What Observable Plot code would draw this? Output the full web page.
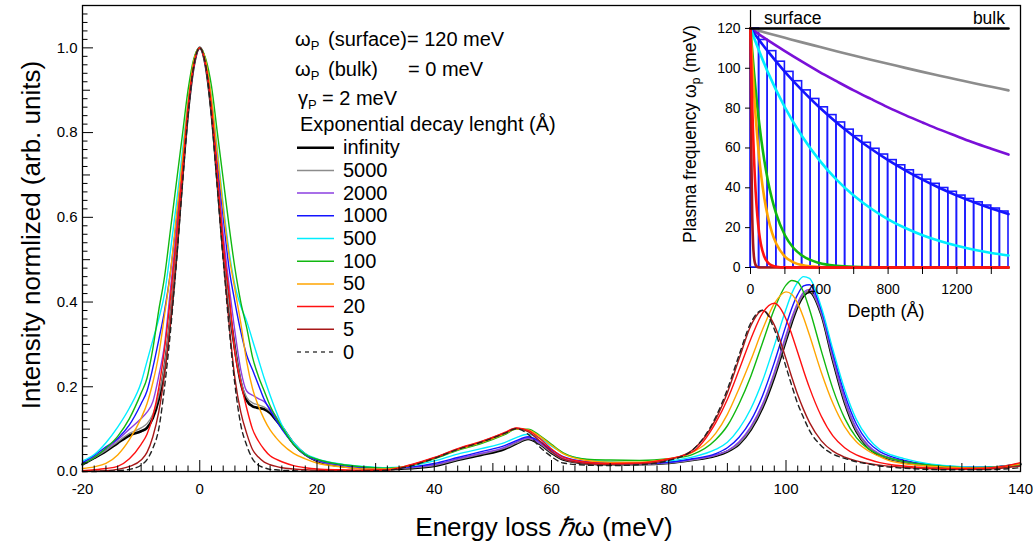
<!DOCTYPE html>
<html>
<head>
<meta charset="utf-8">
<script src="https://cdn.jsdelivr.net/npm/d3@7"></script>
<script src="https://cdn.jsdelivr.net/npm/@observablehq/plot@0.6"></script>
<style>
html,body{margin:0;padding:0;background:#fff;}
#wrap{position:relative;width:1033px;height:547px;overflow:hidden;}
</style>
</head>
<body>
<div id="wrap"></div>
<script>
// ---------------- main spectrum data (energy loss in meV, intensity normalized) ----------------
const energy = [-20,-18,-16,-14,-12,-10,-9,-8,-7,-6,-5,-4,-3,-2,-1,0,
  1,2,3,4,5,6,7,8,9,10,11,12,13,14,
  16,18,20,24,28,32,36,40,44,48,52,
  54,56,58,60,62,66,70,75,80,84,88,
  90,92,94,96,98,100,101,102,103,104,106,108,110,112,114,116,118,120,
  124,128,132,136,140];

const I_infinity = [0.017,0.032,0.048,0.067,0.085,0.095,0.103,0.126,0.170,0.245,0.360,0.510,0.690,0.850,0.960,1.000,
  0.960,0.850,0.690,0.520,0.390,0.290,0.210,0.168,0.154,0.150,0.147,0.138,0.122,0.105,
  0.066,0.040,0.025,0.013,0.008,0.006,0.008,0.013,0.027,0.039,0.053,
  0.066,0.077,0.065,0.044,0.028,0.019,0.017,0.017,0.020,0.027,0.037,
  0.047,0.065,0.099,0.151,0.223,0.310,0.353,0.390,0.415,0.424,0.372,0.263,0.164,0.095,0.057,0.038,0.029,0.023,
  0.015,0.010,0.008,0.010,0.017];
const I_5000 = [0.018,0.033,0.050,0.070,0.090,0.103,0.113,0.135,0.180,0.250,0.370,0.520,0.690,0.850,0.960,1.000,
  0.960,0.850,0.690,0.520,0.390,0.290,0.215,0.175,0.162,0.157,0.152,0.142,0.126,0.108,
  0.068,0.041,0.026,0.014,0.008,0.007,0.009,0.014,0.028,0.041,0.055,
  0.067,0.078,0.066,0.045,0.029,0.019,0.017,0.017,0.020,0.027,0.038,
  0.048,0.066,0.101,0.154,0.227,0.314,0.357,0.393,0.418,0.426,0.373,0.265,0.166,0.097,0.058,0.039,0.029,0.023,
  0.015,0.010,0.008,0.010,0.017];
const I_2000 = [0.019,0.035,0.053,0.075,0.100,0.125,0.140,0.165,0.225,0.300,0.430,0.560,0.710,0.850,0.960,1.000,
  0.960,0.860,0.710,0.560,0.440,0.330,0.240,0.190,0.180,0.172,0.165,0.148,0.130,0.105,
  0.066,0.039,0.026,0.015,0.009,0.007,0.010,0.016,0.030,0.043,0.057,
  0.070,0.079,0.067,0.047,0.031,0.020,0.018,0.018,0.021,0.028,0.039,
  0.049,0.070,0.106,0.159,0.234,0.322,0.364,0.399,0.423,0.430,0.377,0.270,0.172,0.102,0.062,0.041,0.031,0.025,
  0.016,0.011,0.008,0.010,0.017];
const I_1000 = [0.021,0.038,0.058,0.078,0.110,0.160,0.190,0.245,0.310,0.380,0.470,0.590,0.720,0.860,0.960,1.000,
  0.970,0.870,0.730,0.600,0.480,0.400,0.330,0.275,0.240,0.205,0.170,0.145,0.122,0.100,
  0.065,0.039,0.027,0.016,0.010,0.008,0.011,0.019,0.033,0.047,0.061,
  0.073,0.082,0.071,0.051,0.035,0.023,0.020,0.019,0.022,0.030,0.042,
  0.056,0.081,0.120,0.179,0.257,0.345,0.386,0.418,0.438,0.441,0.383,0.280,0.183,0.112,0.070,0.047,0.035,0.027,
  0.017,0.012,0.010,0.011,0.018];
const I_500 = [0.025,0.040,0.068,0.105,0.150,0.210,0.260,0.310,0.360,0.420,0.520,0.630,0.750,0.870,0.970,1.000,
  0.970,0.880,0.760,0.630,0.520,0.440,0.390,0.355,0.310,0.265,0.220,0.180,0.143,0.110,
  0.068,0.042,0.030,0.018,0.012,0.009,0.013,0.025,0.041,0.054,0.068,
  0.080,0.088,0.079,0.060,0.043,0.028,0.023,0.021,0.025,0.034,0.052,
  0.069,0.101,0.148,0.214,0.297,0.383,0.421,0.447,0.460,0.456,0.389,0.288,0.194,0.123,0.079,0.052,0.039,0.031,
  0.019,0.013,0.010,0.011,0.018];
const I_100 = [0.017,0.033,0.055,0.083,0.125,0.185,0.220,0.290,0.380,0.460,0.570,0.680,0.790,0.900,0.975,1.000,
  0.975,0.910,0.800,0.690,0.580,0.480,0.400,0.340,0.270,0.225,0.190,0.155,0.128,0.105,
  0.064,0.040,0.029,0.017,0.011,0.008,0.014,0.030,0.050,0.066,0.087,
  0.100,0.100,0.085,0.064,0.044,0.029,0.027,0.026,0.030,0.040,0.075,
  0.108,0.160,0.225,0.304,0.383,0.440,0.451,0.447,0.423,0.383,0.286,0.195,0.126,0.080,0.054,0.039,0.030,0.024,
  0.016,0.011,0.009,0.010,0.017];
const I_50 = [0.007,0.011,0.019,0.039,0.075,0.126,0.160,0.210,0.275,0.370,0.470,0.600,0.730,0.870,0.970,1.000,
  0.970,0.880,0.750,0.620,0.510,0.430,0.350,0.260,0.196,0.155,0.123,0.098,0.080,0.065,
  0.043,0.030,0.020,0.011,0.006,0.006,0.015,0.032,0.052,0.068,0.089,
  0.101,0.098,0.083,0.062,0.042,0.026,0.022,0.022,0.030,0.045,0.090,
  0.135,0.196,0.263,0.335,0.396,0.424,0.418,0.397,0.363,0.322,0.235,0.161,0.106,0.070,0.049,0.035,0.024,0.019,
  0.013,0.010,0.008,0.010,0.018];
const I_20 = [0.002,0.004,0.007,0.012,0.030,0.064,0.088,0.130,0.196,0.290,0.410,0.550,0.700,0.860,0.960,1.000,
  0.960,0.860,0.700,0.540,0.420,0.280,0.210,0.150,0.100,0.072,0.052,0.037,0.029,0.023,
  0.014,0.009,0.006,0.004,0.003,0.004,0.016,0.033,0.054,0.071,0.092,
  0.103,0.097,0.078,0.053,0.034,0.022,0.019,0.020,0.030,0.046,0.115,
  0.170,0.240,0.313,0.374,0.397,0.360,0.323,0.281,0.238,0.198,0.131,0.084,0.056,0.039,0.029,0.021,0.016,0.013,
  0.009,0.007,0.007,0.010,0.021];
const I_5 = [0.000,0.001,0.002,0.005,0.012,0.027,0.045,0.082,0.140,0.230,0.350,0.500,0.680,0.850,0.960,1.000,
  0.960,0.850,0.680,0.510,0.350,0.220,0.140,0.090,0.052,0.034,0.022,0.016,0.012,0.009,
  0.006,0.004,0.003,0.002,0.002,0.003,0.015,0.032,0.053,0.070,0.091,
  0.102,0.094,0.072,0.047,0.029,0.019,0.017,0.018,0.028,0.050,0.123,
  0.186,0.266,0.344,0.380,0.346,0.266,0.222,0.181,0.146,0.116,0.073,0.048,0.034,0.025,0.019,0.015,0.012,0.010,
  0.007,0.005,0.005,0.007,0.013];
const I_0 = [0.000,0.000,0.001,0.002,0.005,0.015,0.028,0.055,0.100,0.200,0.330,0.490,0.670,0.840,0.960,1.000,
  0.960,0.840,0.670,0.500,0.340,0.205,0.110,0.062,0.030,0.015,0.009,0.005,0.004,0.003,
  0.002,0.001,0.001,0.001,0.001,0.003,0.013,0.031,0.052,0.069,0.090,
  0.101,0.088,0.058,0.035,0.020,0.015,0.014,0.016,0.026,0.050,0.128,
  0.194,0.275,0.351,0.381,0.336,0.247,0.202,0.160,0.127,0.097,0.061,0.041,0.031,0.023,0.018,0.013,0.010,0.008,
  0.005,0.004,0.004,0.005,0.009];

// ---------------- inset data (depth in Å, plasma frequency in meV) ----------------
const depthCoarse = [0,100,200,300,400,500,600,700,800,900,1000,1100,1200,1300,1400,1500];
const wp_5000 = [120,117.6,115.3,113.0,110.8,108.6,106.4,104.3,102.3,100.2,98.2,96.3,94.4,92.5,90.7,88.9];
const wp_2000 = [120,114.1,108.6,103.3,98.2,93.5,88.9,84.6,80.4,76.5,72.8,69.2,65.9,62.6,59.6,56.7];
const wp_1000 = [120,108.6,98.2,88.9,80.4,72.8,65.9,59.6,53.9,48.8,44.1,39.9,36.1,32.7,29.6,26.8];
const wp_500  = [120,98.2,80.4,65.9,53.9,44.1,36.1,29.6,24.2,19.8,16.2,13.3,10.9,8.9,7.3,6.0];
const depthFine = [0,2,5,10,15,20,30,40,50,60,80,100,125,150,200,250,300,400,500,600,800,1000,1500];
const wp_100 = [120,117.6,114.2,108.6,103.3,98.2,88.9,80.4,72.8,65.9,53.9,44.1,34.4,26.8,16.2,9.8,6.0,2.2,0.8,0.3,0.04,0,0];
const wp_50  = [120,116.4,111.1,102.8,95.3,88.2,75.5,64.8,55.5,47.6,35.0,25.8,17.5,11.9,5.5,2.6,1.2,0.25,0.05,0.01,0,0,0];
const wp_20  = [120,111.1,98.9,81.7,67.4,55.7,37.9,25.8,17.5,11.9,5.5,2.6,1.0,0.37,0.05,0,0,0,0,0,0,0,0];
const wp_5   = [120,88.2,55.5,25.8,11.9,5.5,1.2,0.25,0.05,0.01,0,0,0,0,0,0,0,0,0,0,0,0,0];
const depthInf = [0,1500];
const wp_inf = [120,120];
const barStart = [0,50,100,150,200,250,300,350,400,450,500,550,600,650,700,750,800,850,900,950,1000,1050,1100,1150,1200,1250,1300,1350,1400,1450];
const barEnd   = [50,100,150,200,250,300,350,400,450,500,550,600,650,700,750,800,850,900,950,1000,1050,1100,1150,1200,1250,1300,1350,1400,1450,1500];
const barHeight = [120,114.2,108.6,103.3,98.2,93.5,88.9,84.6,80.4,76.5,72.8,69.2,65.9,62.6,59.6,56.7,53.9,51.3,48.8,46.4,44.1,42.0,39.9,38.0,36.1,34.4,32.7,31.1,29.6,28.1];

// ---------------- ticks / labels ----------------
const xTickLabels = [-20,0,20,40,60,80,100,120,140];
const yTickLabels = [0,0.2,0.4,0.6,0.8,1.0];
const insetYTicks = [0,20,40,60,80,100,120];
const insetXTicks = [0,200,400,600,800,1000,1200,1400];
const insetXLabels = [0,400,800,1200];
const legendNames = ["infinity","5000","2000","1000","500","100","50","20","5","0"];

// ---------------- styles ----------------
const FONT = '"Liberation Sans", Arial, Helvetica, sans-serif';
const C = {inf:"#000000", g:"#8c8c8c", p:"#8b3fe0", b:"#1414ff", c:"#00eeff", gr:"#10b810", o:"#ffa500", r:"#ff1010", dr:"#a81818", d:"#222222"};
const series = [
  {key:"infinity", v:I_infinity, color:C.inf, w:2.6},
  {key:"5000", v:I_5000, color:C.g, w:1.4},
  {key:"2000", v:I_2000, color:C.p, w:1.4},
  {key:"1000", v:I_1000, color:C.b, w:1.4},
  {key:"500", v:I_500, color:C.c, w:1.4},
  {key:"100", v:I_100, color:C.gr, w:1.4},
  {key:"50", v:I_50, color:C.o, w:1.4},
  {key:"5", v:I_5, color:C.dr, w:1.4},
  {key:"20", v:I_20, color:C.r, w:1.4},
  {key:"0", v:I_0, color:C.d, w:1.4, dash:"5,4"}
];
const W = 1033, H = 547, mL = 82, mR = 13, mT = 5, mB = 76;
const innerW = W - mL - mR, innerH = H - mT - mB;

const rows = vals => energy.map((e, i) => ({E: e, I: vals[i]}));
const xTickAll = d3.range(-20, 141, 2);
const yTickAll = d3.range(0, 109, 2);
const xLen = v => v % 20 === 0 ? 11 : v % 10 === 0 ? 8 : 5.5;
const yLen = v => v % 20 === 0 ? 11 : v % 10 === 0 ? 8 : 5.5;

const tickMarks = [];
for (const L of [11, 8, 5.5]) {
  tickMarks.push(Plot.tickX(xTickAll.filter(v => xLen(v) === L), {x: d => d, insetTop: innerH - L, stroke: "#000", strokeWidth: 1}));
  tickMarks.push(Plot.tickY(yTickAll.filter(v => yLen(v) === L).map(v => v / 100), {y: d => d, insetRight: innerW - L, stroke: "#000", strokeWidth: 1}));
}

const main = Plot.plot({
  width: W, height: H,
  marginLeft: mL, marginRight: mR, marginTop: mT, marginBottom: mB,
  x: {domain: [-20, 140]},
  y: {domain: [0, 1.1]},
  style: {fontFamily: FONT, fontSize: "15px", background: "transparent", color: "#000", position: "absolute", left: "0px", top: "0px", overflow: "visible"},
  marks: [
    ...series.map(s => Plot.line(rows(s.v), {x: "E", y: "I", stroke: s.color, strokeWidth: s.w, strokeDasharray: s.dash, curve: "monotone-x"})),
    ...tickMarks,
    Plot.frame({stroke: "#000", strokeWidth: 1.3}),
    Plot.axisX({ticks: xTickLabels, tickSize: 0, tickPadding: 12, tickFormat: d => String(d), label: null}),
    Plot.axisY({ticks: yTickLabels, tickSize: 0, tickPadding: 5, tickFormat: d3.format(".1f"), label: null})
  ]
});

const wrap = document.getElementById("wrap");
wrap.appendChild(main);

// axis titles and legend (text)
const ms = d3.select(main);
const xt = ms.append("text").attr("x", 544).attr("y", 536).attr("text-anchor", "middle")
  .attr("font-family", FONT).attr("font-size", 26).attr("fill", "#000");
xt.append("tspan").text("Energy loss ");
xt.append("tspan").attr("font-style", "italic").text("ℏ");
xt.append("tspan").text("ω (meV)");
ms.append("text").attr("transform", "translate(40,235) rotate(-90)").attr("text-anchor", "middle")
  .attr("font-family", FONT).attr("font-size", 26).attr("fill", "#000").text("Intensity normlized (arb. units)");

const lg = ms.append("g").attr("font-family", FONT).attr("font-size", 20).attr("fill", "#000").attr("text-anchor", "start");
function subLine(y, x0, greek, rest) {
  const t = lg.append("text").attr("y", y).attr("text-anchor", "start");
  t.append("tspan").attr("x", x0).text(greek);
  t.append("tspan").attr("font-size", 13).attr("dy", 4).text("P");
  rest.forEach(([x, s], i) => t.append("tspan").attr("x", x).attr("dy", i === 0 ? -4 : 0).text(s));
}
subLine(46, 295, "ω", [[328, "(surface)= 120 meV"]]);
subLine(76, 295, "ω", [[328, "(bulk)"], [408, "= 0 meV"]]);
subLine(105, 298, "γ", [[322, "= 2 meV"]]);
lg.append("text").attr("x", 300).attr("y", 131).attr("text-anchor", "start").text("Exponential decay lenght (Å)");

const legendStyle = {
  "infinity": {c: C.inf, w: 2.6}, "5000": {c: C.g, w: 1.5}, "2000": {c: C.p, w: 1.5}, "1000": {c: C.b, w: 1.5},
  "500": {c: C.c, w: 1.5}, "100": {c: C.gr, w: 1.5}, "50": {c: C.o, w: 1.5}, "20": {c: C.r, w: 1.5},
  "5": {c: C.dr, w: 1.5}, "0": {c: "#444", w: 1.5, dash: "4,4"}
};
legendNames.forEach((n, i) => {
  const y = 147.7 + i * 22.7;
  const st = legendStyle[n];
  lg.append("line").attr("x1", 297).attr("x2", 334).attr("y1", y).attr("y2", y)
    .attr("stroke", st.c).attr("stroke-width", st.w).attr("stroke-dasharray", st.dash || null);
  lg.append("text").attr("x", 343).attr("y", y + 6.5).attr("text-anchor", "start").text(n);
});

// ---------------- inset ----------------
const IW = 350, IH = 330;
const drow = (xs, ys) => xs.map((x, i) => ({z: x, w: ys[i]}));
const bars = barStart.map((s, i) => ({x1: s, x2: barEnd[i], h: barHeight[i]}));
const insetLines = [
  [depthCoarse, wp_5000, C.g], [depthCoarse, wp_2000, "#7a10d8"], [depthCoarse, wp_1000, C.b],
  [depthCoarse, wp_500, C.c], [depthFine, wp_100, C.gr], [depthFine, wp_50, C.o],
  [depthFine, wp_5, C.dr], [depthFine, wp_20, C.r], [depthInf, wp_inf, "#000"]
];
const inset = Plot.plot({
  width: IW, height: IH,
  marginLeft: 80, marginRight: 12, marginTop: 10, marginBottom: 63,
  x: {domain: [0, 1500]},
  y: {domain: [0, 129]},
  style: {fontFamily: FONT, fontSize: "14px", background: "transparent", color: "#000", position: "absolute", left: "670px", top: "0px", overflow: "visible"},
  marks: [
    Plot.ruleX([0], {stroke: "#000", strokeWidth: 1.2}),
    Plot.ruleY([0], {stroke: "#000", strokeWidth: 1.2}),
    Plot.rect(bars, {x1: "x1", x2: "x2", y1: 0, y2: "h", fill: "none", stroke: "#1a1aff", strokeWidth: 1.6}),
    ...insetLines.map(([xs, ys, c]) => Plot.line(drow(xs, ys), {x: "z", y: "w", stroke: c, strokeWidth: 2.6, curve: "monotone-x"})),
    Plot.axisY({ticks: insetYTicks, tickSize: 5, tickPadding: 5, tickFormat: d => String(d), label: null}),
    Plot.axisX({ticks: insetXTicks, tickSize: 7, tickPadding: 10, tickFormat: d => insetXLabels.includes(d) ? String(d) : "", label: null})
  ]
});
wrap.appendChild(inset);
const is = d3.select(inset);
const yl = is.append("text").attr("transform", "translate(26,134) rotate(-90)").attr("text-anchor", "middle")
  .attr("font-family", FONT).attr("font-size", 17.5).attr("fill", "#000");
yl.append("tspan").text("Plasma frequency ω");
yl.append("tspan").attr("font-size", 12).attr("dy", 4).text("p");
yl.append("tspan").attr("dy", -4).text(" (meV)");
is.append("text").attr("x", 216).attr("y", 317).attr("text-anchor", "middle").attr("font-family", FONT)
  .attr("font-size", 18).attr("fill", "#000").text("Depth (Å)");
is.append("text").attr("x", 94).attr("y", 24).attr("text-anchor", "start").attr("font-family", FONT).attr("font-size", 17.5).attr("fill", "#000").text("surface");
is.append("text").attr("x", 335).attr("y", 24).attr("text-anchor", "end").attr("font-family", FONT).attr("font-size", 17.5).attr("fill", "#000").text("bulk");
</script>
</body>
</html>
